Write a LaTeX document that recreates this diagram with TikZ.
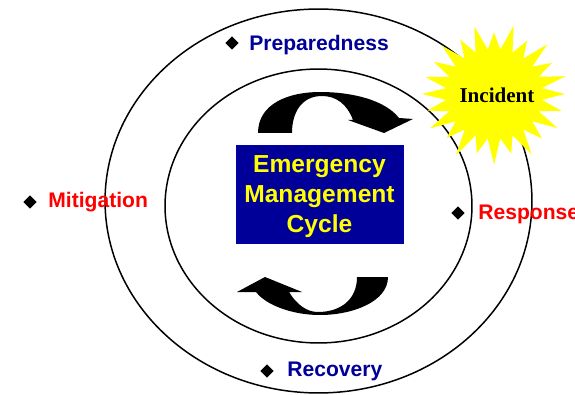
\documentclass[tikz,border=0pt]{standalone}
\usepackage{fontspec}
\setmainfont{Liberation Sans}
\newfontfamily\timesfont{Liberation Serif}
\usetikzlibrary{shapes.geometric,positioning}
\definecolor{boxblue}{RGB}{0,0,153}
\definecolor{phaseblue}{RGB}{0,0,153}
\definecolor{phasered}{RGB}{255,0,0}
\definecolor{burst}{RGB}{255,255,0}

\begin{document}
\begin{tikzpicture}[x=0.02cm,y=-0.02cm,
    ring/.style={line width=0.85pt},
    bullet/.style={diamond,fill=black,inner sep=0pt,minimum size=0.27cm},
    phase/.style={anchor=base west,inner sep=0pt,font=\fontsize{12}{14}\selectfont\bfseries},
    cyclearrow/.style={fill=black}]
    \useasboundingbox (0,0) rectangle (575,395);
    \draw[ring] (318.5,201) ellipse [x radius=4.27cm, y radius=3.84cm];
    \draw[ring] (318.5,206) ellipse [x radius=3.07cm, y radius=2.74cm];
    \fill[burst, shift={(494,94)}] plot[samples at={0,...,47}, variable=\k]
        (\k*7.5 : {(mod(\k,2)==0 ? 1+0.07*sin(\k*97) : 0.68)*71} and {(mod(\k,2)==0 ? 1+0.07*sin(\k*97) : 0.68)*66}) -- cycle;
    \node[font=\timesfont\fontsize{12}{14}\selectfont\bfseries] (incident) at (497,95) {Incident};
    \fill[cyclearrow] (258,133) .. controls (258,104) and (288,92) .. (320,92)
        .. controls (352,92) and (385,100) .. (399,118) -- (413,119) -- (384,133)
        -- (348,120) -- (353,120) .. controls (347,104) and (336,96) .. (322,96)
        .. controls (302,96) and (292,112) .. (292,133) -- cycle;
    \fill[cyclearrow] (388,277) .. controls (388,302) and (352,315) .. (320,315)
        .. controls (292,315) and (266,305) .. (256,292) -- (237,292) -- (265,277)
        -- (302,292) -- (289,292) .. controls (297,305) and (307,312) .. (318,312)
        .. controls (340,312) and (357,300) .. (357,277) -- cycle;
    \node[fill=boxblue,draw=blue!70!black,minimum width=3.34cm,minimum height=1.9cm,
        align=center,text=burst,font=\fontsize{14}{17}\selectfont\bfseries] (cycle) at (319.5,194.5)
        {\rule{0pt}{12pt}Emergency\\Management\\Cycle};
    \node[bullet] (prepdot) at (232,43) {};
    \node[phase,text=phaseblue] (prep) at (249,51) {Preparedness};
    \node[bullet] (mitidot) at (30,202) {};
    \node[phase,text=phasered] (miti) at (48,208) {Mitigation};
    \node[bullet] (respdot) at (458,213) {};
    \node[phase,text=phasered] (resp) at (478,219) {Response};
    \node[bullet] (recodot) at (267,371) {};
    \node[phase,text=phaseblue] (reco) at (287,376) {Recovery};
\end{tikzpicture}
\end{document}
